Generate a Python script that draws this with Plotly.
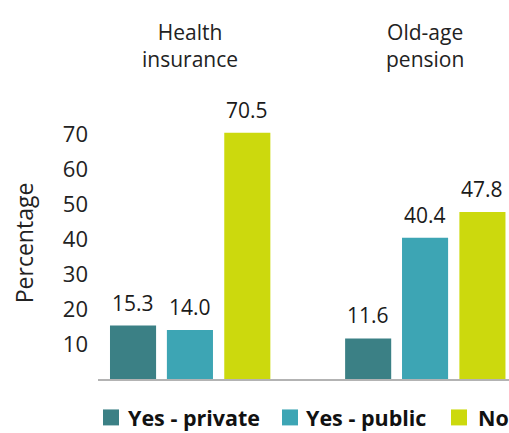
import plotly.graph_objects as go

groups = ["Health<br>insurance", "Old-age<br>pension"]
series = ["Yes - private", "Yes - public", "No"]
values = {
    "Yes - private": [15.3, 11.6],
    "Yes - public": [14.0, 40.4],
    "No": [70.5, 47.8],
}
colors = {"Yes - private": "#3b8085", "Yes - public": "#3da5b4", "No": "#ccd90d"}
y_ticks = [10, 20, 30, 40, 50, 60, 70]

FONT = "Open Sans"
offsets = [-0.340, -0.098, 0.146]
bw = 0.196

# plot-area geometry (pixels) used to place legend items in paper coords
L, R, T, B = 98, 509, 117, 379.5
W, H = R - L, B - T
def px(x):
    return (x - L) / W
def py(y):
    return (B - y) / H

fig = go.Figure()
annotations = []
shapes = []
xs = list(range(len(groups)))
for i, s in enumerate(series):
    fig.add_trace(go.Bar(
        x=xs, y=values[s], name=s, width=bw, offset=offsets[i],
        marker=dict(color=colors[s], line=dict(width=0)),
        showlegend=False,
    ))
    for gx, v in zip(xs, values[s]):
        annotations.append(dict(
            x=gx + offsets[i] + bw / 2, y=v, xref="x", yref="y",
            text=f"{v:.1f}", showarrow=False, yanchor="bottom", yshift=7,
            font=dict(family=FONT, size=21, color="#1a1a1a"),
        ))

for gx, g in zip(xs, groups):
    annotations.append(dict(
        x=gx, y=1.16, xref="x", yref="paper", text=g, showarrow=False,
        yanchor="bottom", font=dict(family=FONT, size=21, color="#222222"),
    ))

annotations.append(dict(
    x=px(24), y=py(243.5), xref="paper", yref="paper", text="Percentage",
    showarrow=False, textangle=-90, xanchor="center", yanchor="middle",
    font=dict(family=FONT, size=23, color="#222222"),
))

# legend (manual, to reproduce the square swatches and spacing)
legend_sq = [103, 282, 451]
legend_tx = [126, 304, 476]
for s, sx, tx in zip(series, legend_sq, legend_tx):
    shapes.append(dict(type="rect", xref="paper", yref="paper",
                       x0=px(sx), x1=px(sx + 16), y0=py(426), y1=py(410),
                       fillcolor=colors[s], line=dict(width=0)))
    annotations.append(dict(
        x=px(tx), y=py(418), xref="paper", yref="paper", text=f"<b>{s}</b>",
        showarrow=False, xanchor="left", yanchor="middle",
        font=dict(family=FONT, size=21.5, color="#111111"),
    ))

fig.update_layout(
    width=509, height=433,
    margin=dict(l=L, r=509 - R, t=T, b=433 - B, autoexpand=False),
    plot_bgcolor="white", paper_bgcolor="white",
    barmode="overlay",
    showlegend=False,
    annotations=annotations,
    shapes=shapes,
    xaxis=dict(range=[-0.391, 1.357], showticklabels=False, showgrid=False,
               zeroline=False, showline=True, linecolor="#b3b3b3", linewidth=2,
               ticks=""),
    yaxis=dict(range=[0, 75], tickvals=y_ticks, showgrid=False, zeroline=False,
               showline=False, ticks="", ticklabelstandoff=9,
               tickfont=dict(family=FONT, size=22, color="#222222")),
)

fig.write_html("out.html")
